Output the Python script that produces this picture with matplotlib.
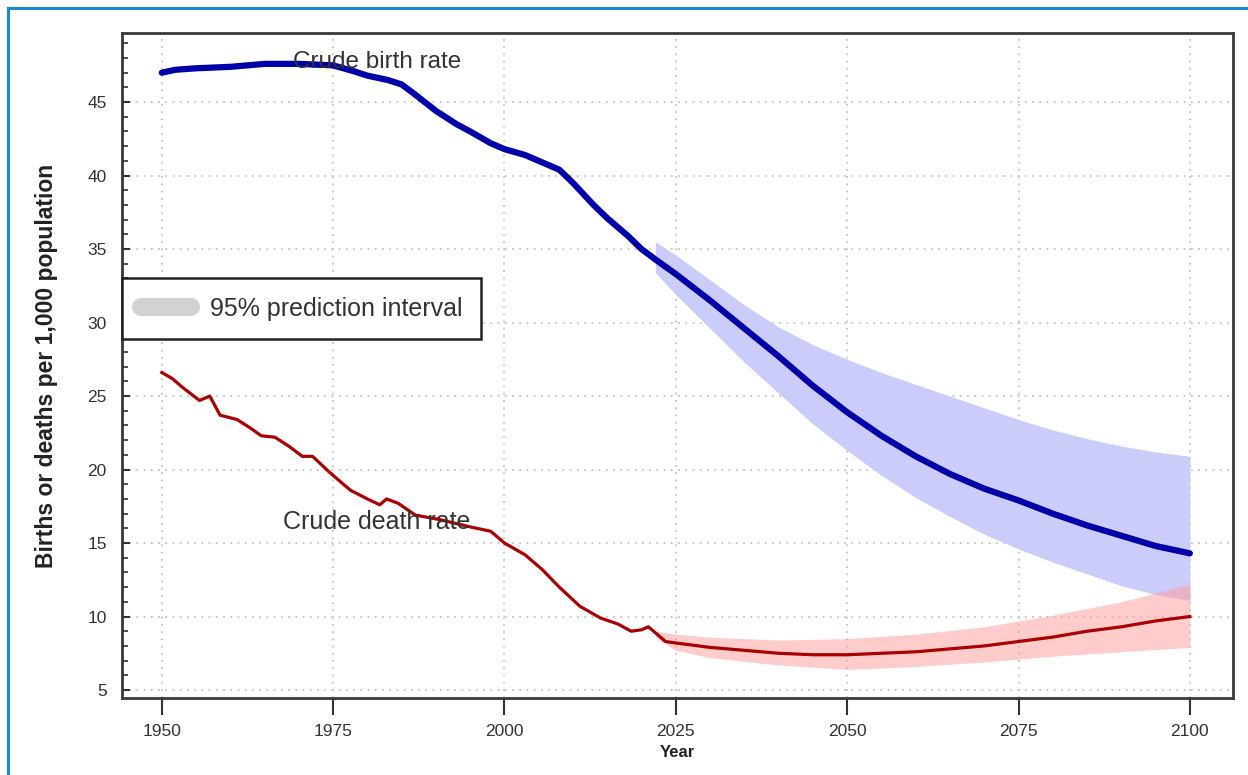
import matplotlib
matplotlib.use("Agg")
import matplotlib.pyplot as plt
from matplotlib.lines import Line2D
from matplotlib.ticker import MultipleLocator

plt.rcParams['font.family'] = ['Liberation Sans', 'DejaVu Sans']

# crude birth rate, estimates up to ~2020 then median projection
birth_years = [1950, 1952, 1955, 1960, 1965, 1970, 1975, 1978, 1980, 1983, 1985, 1987,
               1990, 1993, 1995, 1998, 2000, 2003, 2005, 2008, 2010, 2013, 2015, 2018,
               2020, 2022, 2025, 2030, 2035, 2040, 2045, 2050, 2055, 2060, 2065, 2070,
               2075, 2080, 2085, 2090, 2095, 2100]
birth_rate = [47.0, 47.2, 47.3, 47.4, 47.6, 47.6, 47.5, 47.1, 46.8, 46.5, 46.2, 45.5,
              44.4, 43.5, 43.0, 42.2, 41.8, 41.4, 41.0, 40.4, 39.5, 38.0, 37.1, 35.9,
              35.0, 34.3, 33.3, 31.5, 29.6, 27.7, 25.7, 23.9, 22.3, 20.9, 19.7, 18.7,
              17.9, 17.0, 16.2, 15.5, 14.8, 14.3]

# 95% prediction interval for births
birth_pi_years = [2022, 2025, 2030, 2035, 2040, 2045, 2050, 2055, 2060, 2065, 2070,
                  2075, 2080, 2085, 2090, 2095, 2100]
birth_pi_hi = [35.5, 34.6, 32.9, 31.2, 29.7, 28.5, 27.5, 26.6, 25.8, 25.0, 24.2,
               23.4, 22.7, 22.1, 21.6, 21.2, 20.9]
birth_pi_lo = [33.4, 31.9, 29.6, 27.3, 25.2, 23.1, 21.3, 19.6, 18.1, 16.8, 15.6,
               14.6, 13.7, 12.9, 12.1, 11.5, 11.1]

# crude death rate
death_years = [1950, 1951.5, 1953, 1955.5, 1957, 1958.5, 1961, 1963, 1964.5, 1966.5,
               1968.5, 1970.5, 1972, 1974.5, 1977.5, 1980, 1981.8, 1982.8, 1984.5, 1987,
               1990.5, 1995, 1998, 2000, 2003, 2005.5, 2008, 2011, 2014, 2016.5, 2018.5,
               2020, 2021, 2022, 2023.5, 2025, 2030, 2035, 2040, 2045, 2050, 2055, 2060,
               2065, 2070, 2075, 2080, 2085, 2090, 2095, 2100]
death_rate = [26.6, 26.2, 25.6, 24.7, 25.0, 23.7, 23.4, 22.8, 22.3, 22.2,
              21.6, 20.9, 20.9, 19.8, 18.6, 18.0, 17.6, 18.0, 17.7, 16.9,
              16.6, 16.1, 15.8, 15.0, 14.2, 13.2, 12.0, 10.7, 9.9, 9.5, 9.0,
              9.1, 9.3, 8.9, 8.3, 8.2, 7.9, 7.7, 7.5, 7.4, 7.4, 7.5, 7.6,
              7.8, 8.0, 8.3, 8.6, 9.0, 9.3, 9.7, 10.0]

death_pi_years = [2022, 2025, 2030, 2040, 2050, 2060, 2070, 2075, 2080, 2090, 2100]
death_pi_hi = [9.0, 8.8, 8.6, 8.4, 8.5, 8.8, 9.3, 9.7, 10.1, 11.0, 12.2]
death_pi_lo = [8.6, 7.7, 7.2, 6.7, 6.4, 6.6, 6.9, 7.1, 7.3, 7.6, 7.9]

fig = plt.figure(figsize=(12.48, 7.75), dpi=100)
ax = fig.add_axes([0.0978, 0.0994, 0.8902, 0.858])

ax.fill_between(birth_pi_years, birth_pi_lo, birth_pi_hi, color='#ccccfb', lw=0, zorder=2)
ax.fill_between(death_pi_years, death_pi_lo, death_pi_hi, color='#ff9a9a', alpha=0.5, lw=0, zorder=3)
ax.plot(birth_years, birth_rate, color='#0000a8', lw=4.5, solid_capstyle='round', zorder=4)
ax.plot(death_years, death_rate, color='#a80000', lw=2.3, zorder=4)

ax.text(1981.4, 47.7, 'Crude birth rate', fontsize=17.5, color='#333333',
        ha='center', va='center', zorder=5)
ax.text(1981.4, 16.4, 'Crude death rate', fontsize=18, color='#333333',
        ha='center', va='center', zorder=5)

ax.set_xlim(1944.2, 2106.3)
ax.set_ylim(4.46, 49.7)
ax.set_xticks([1950, 1975, 2000, 2025, 2050, 2075, 2100])
ax.set_yticks([5, 10, 15, 20, 25, 30, 35, 40, 45])
ax.yaxis.set_minor_locator(MultipleLocator(1))
ax.grid(True, which='major', color='#c4c4c4', linestyle=(0, (1, 3)), linewidth=1.3)

ax.tick_params(axis='x', direction='out', length=12, width=1.5, color='#333333',
               labelsize=12.5, labelcolor='#333333', pad=7)
ax.tick_params(axis='y', which='major', direction='in', length=6, width=1.5,
               color='#333333', labelsize=12.5, labelcolor='#333333', pad=11)
ax.tick_params(axis='y', which='minor', direction='in', length=4, width=1.2, color='#333333')

for s in ax.spines.values():
    s.set_color('#3a3a3a')
    s.set_linewidth(2)

ax.set_xlabel('Year', fontsize=12, fontweight='bold', color='#222222', labelpad=4)
ax.set_ylabel('Births or deaths per 1,000 population', fontsize=16.5, fontweight='bold',
              color='#222222', labelpad=21)

handle = Line2D([0], [0], color='#d2d2d2', lw=13, solid_capstyle='round')
leg = ax.legend([handle], ['95% prediction interval'], loc='upper left',
                bbox_to_anchor=(0.0, 0.6316), borderaxespad=0, fontsize=18,
                fancybox=False, framealpha=1, edgecolor='#222222',
                handlelength=2.0, handletextpad=0.75, borderpad=0.75)
leg.get_frame().set_linewidth(1.8)
for t in leg.get_texts():
    t.set_color('#333333')
leg.set_zorder(6)

# page frame
fig.add_artist(Line2D([8 / 1248, 8 / 1248], [0, 1 - 8 / 775], color='#1b8ac6', lw=2.2,
                      transform=fig.transFigure))
fig.add_artist(Line2D([8 / 1248, 1], [1 - 8 / 775, 1 - 8 / 775], color='#1b8ac6', lw=2.2,
                      transform=fig.transFigure))

fig.savefig('out.png', dpi=100, facecolor='white')
